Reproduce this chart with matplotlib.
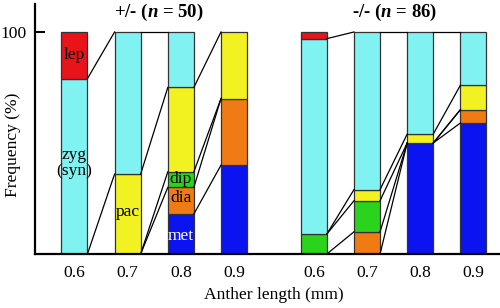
import matplotlib
matplotlib.use('Agg')
import matplotlib.pyplot as plt
import numpy as np

plt.rcParams['font.family'] = ['Liberation Serif', 'DejaVu Serif']
plt.rcParams['mathtext.fontset'] = 'custom'
plt.rcParams['mathtext.it'] = 'Liberation Serif:italic:bold'
plt.rcParams['mathtext.rm'] = 'Liberation Serif:bold'

# anther lengths (mm) and meiotic stages, bottom to top
lengths = ['0.6', '0.7', '0.8', '0.9']
stages = ['met', 'dia', 'dip', 'pac', 'zyg', 'lep']
colors = ['#0a14f0', '#f07a14', '#2ad41c', '#f2f222', '#80f2f2', '#e8141a']

# +/- (n = 50), percent per stage
het_met = [0, 0, 18, 40]
het_dia = [0, 0, 12, 30]
het_dip = [0, 0, 7, 0]
het_pac = [0, 36, 38, 30]
het_zyg = [79, 64, 25, 0]
het_lep = [21, 0, 0, 0]

# -/- (n = 86)
hom_met = [0, 0, 50, 59]
hom_dia = [0, 10, 0, 6]
hom_dip = [9, 14, 0, 0]
hom_pac = [0, 5, 4, 11]
hom_zyg = [88, 71, 46, 24]
hom_lep = [3, 0, 0, 0]

groups = [
    ('het', np.array([0, 1, 2, 3]), np.array([het_met, het_dia, het_dip, het_pac, het_zyg, het_lep])),
    ('hom', np.array([4.5, 5.5, 6.5, 7.5]), np.array([hom_met, hom_dia, hom_dip, hom_pac, hom_zyg, hom_lep])),
]
# connector lines that the original leaves out
skip = {('het', 1, 0), ('het', 2, 4)}

w = 0.49
fig = plt.figure(figsize=(5, 3.08), dpi=100)
ax = fig.add_axes([0.07, 54/308, 0.93, 250/308])

for name, x, vals in groups:
    cum = np.cumsum(vals, axis=0)
    for k in range(len(stages)):
        bottom = cum[k] - vals[k]
        m = vals[k] > 0
        ax.bar(x[m], vals[k][m], bottom=bottom[m], width=w, color=colors[k],
               edgecolor='#333333', linewidth=0.9, zorder=2)
    for i in range(len(x) - 1):
        for k in range(len(stages) - 1):
            y0, y1 = cum[k][i], cum[k][i + 1]
            if y0 == 0 and y1 == 0:
                continue
            if (name, i, k) in skip:
                continue
            ax.plot([x[i] + w/2, x[i + 1] - w/2], [y0, y1], color='black', lw=0.9, zorder=3)

# stage labels in the +/- bars
fs = 12.6
ax.text(0, 89.5, 'lep', ha='center', va='center', fontsize=fs)
ax.text(0, 41, 'zyg\n(syn)', ha='center', va='center', fontsize=fs, linespacing=1.0)
ax.text(1, 19, 'pac', ha='center', va='center', fontsize=fs)
ax.text(2, 34, 'dip', ha='center', va='center', fontsize=fs)
ax.text(2, 25, 'dia', ha='center', va='center', fontsize=fs)
ax.text(2, 8, 'met', ha='center', va='center', fontsize=fs, color='white')

ax.set_xlim(-0.741, 8.0)
ax.set_ylim(0, 112.6)
ax.set_xticks(np.concatenate([groups[0][1], groups[1][1]]))
ax.set_xticklabels(lengths + lengths, fontsize=fs)
ax.tick_params(axis='x', length=0, pad=8)
ax.set_yticks([100])
ax.set_yticklabels(['100'], fontsize=fs)
ax.tick_params(axis='y', direction='in', length=7, width=1.5, pad=6)
for s in ['top', 'right']:
    ax.spines[s].set_visible(False)
for s in ['left', 'bottom']:
    ax.spines[s].set_linewidth(1.6)

fig.text(13/500, 1 - 145/308, 'Frequency (%)', rotation=90, ha='center', va='center', fontsize=fs)
fig.text(274/500, 1 - 295/308, 'Anther length (mm)', ha='center', va='center', fontsize=fs)
fig.text(159/500, 1 - 12/308, r'+/- ($\mathit{n}$ = 50)', ha='center', va='center', fontsize=13.5, fontweight='bold')
fig.text(395/500, 1 - 12/308, r'-/- ($\mathit{n}$ = 86)', ha='center', va='center', fontsize=13.5, fontweight='bold')

fig.savefig('out.png', dpi=100)
